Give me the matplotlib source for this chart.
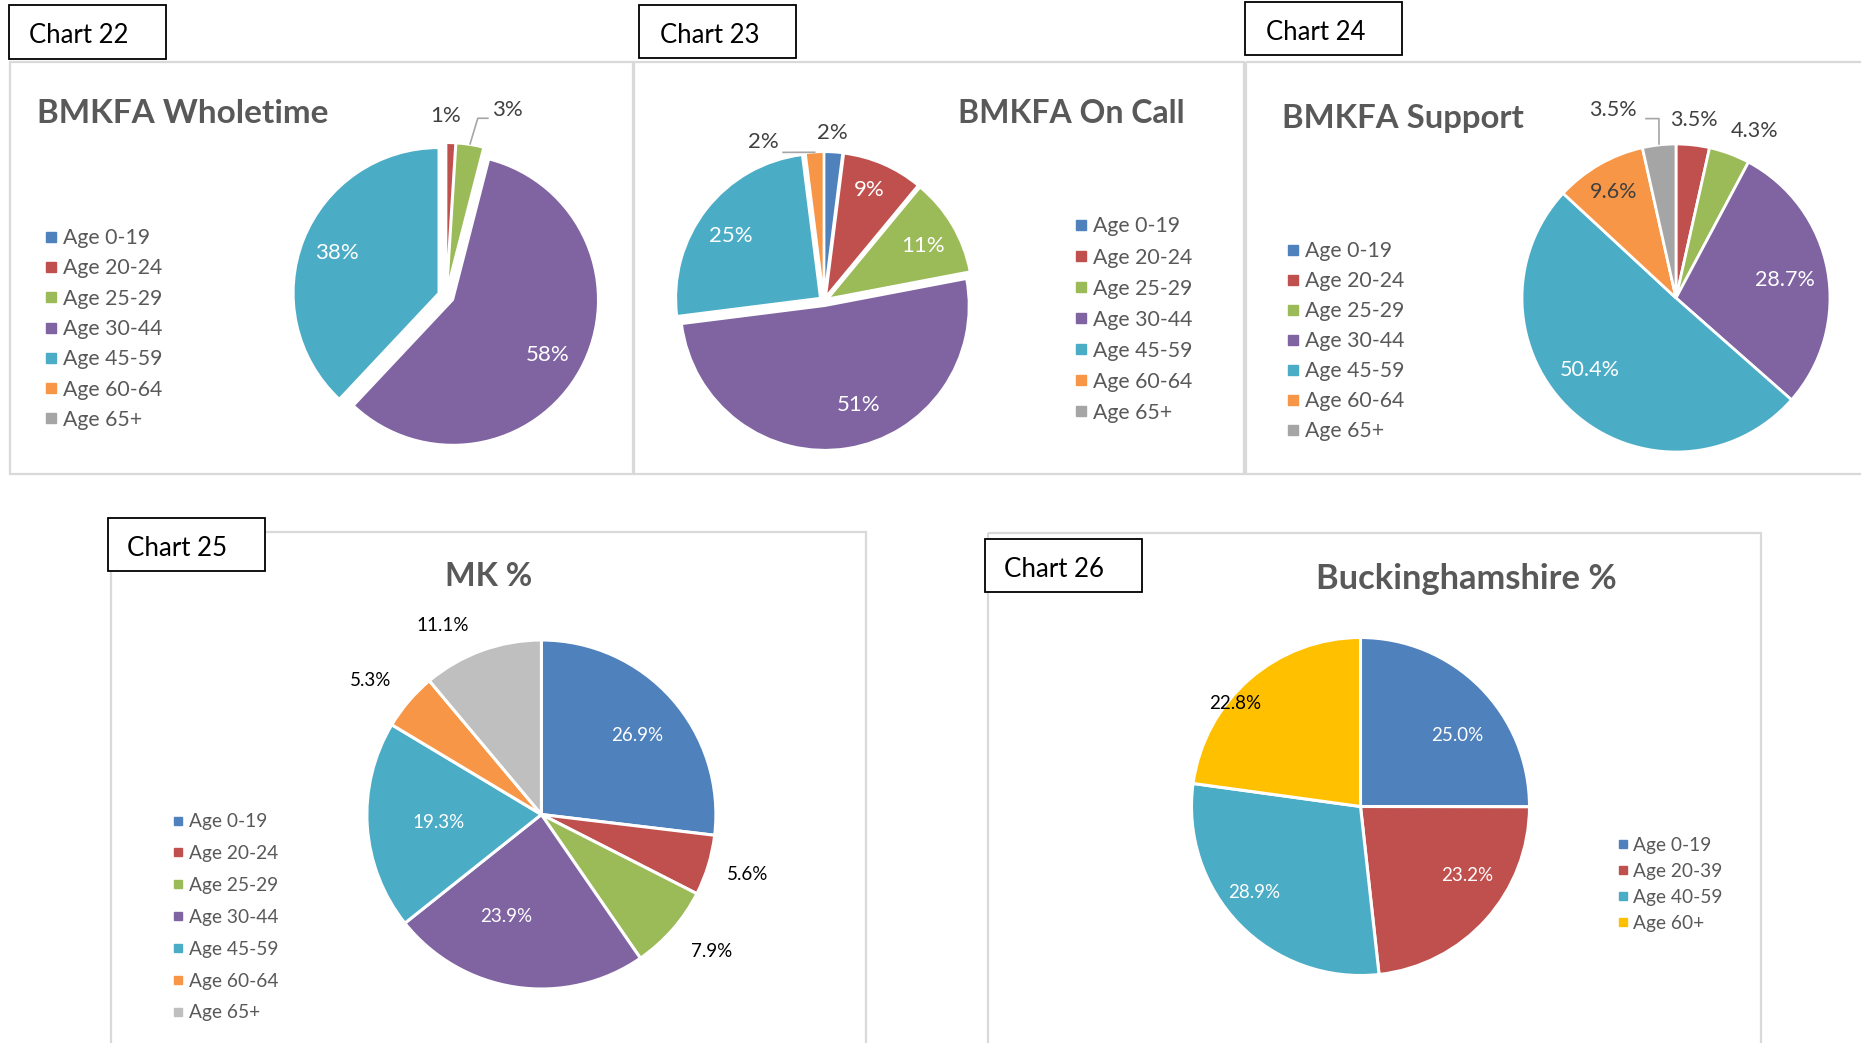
import matplotlib
matplotlib.use("Agg")
import matplotlib.pyplot as plt
from matplotlib.lines import Line2D
from matplotlib.patches import Rectangle
import numpy as np

plt.rcParams['font.family'] = ['Lato', 'DejaVu Sans']

W, H = 1861, 1043

# ---------------- data ----------------
ages7 = ["Age 0-19", "Age 20-24", "Age 25-29", "Age 30-44", "Age 45-59", "Age 60-64", "Age 65+"]
ages4 = ["Age 0-19", "Age 20-39", "Age 40-59", "Age 60+"]

wholetime = [0, 1, 3, 58, 38, 0, 0]
on_call = [2, 9, 11, 51, 25, 2, 0]
support = [0, 3.5, 4.3, 28.7, 50.4, 9.6, 3.5]
mk = [26.9, 5.6, 7.9, 23.9, 19.3, 5.3, 11.1]
bucks = [25.0, 23.2, 28.9, 22.8]

titles = ["BMKFA Wholetime", "BMKFA On Call", "BMKFA Support", "MK %", "Buckinghamshire %"]
chart_nums = ["Chart 22", "Chart 23", "Chart 24", "Chart 25", "Chart 26"]

# ---------------- styles ----------------
c7 = ['#4F81BD', '#C0504D', '#9BBB59', '#8064A2', '#4BACC6', '#F79646', '#A5A5A5']
c7_mk = ['#4F81BD', '#C0504D', '#9BBB59', '#8064A2', '#4BACC6', '#F79646', '#BFBFBF']
c4 = ['#4F81BD', '#C0504D', '#4BACC6', '#FFC000']
GREY_TXT = '#595959'
DARK = '#404040'

fig = plt.figure(figsize=(W / 100, H / 100), dpi=100)
bg = fig.add_axes([0, 0, 1, 1])
bg.set_xlim(0, W)
bg.set_ylim(H, 0)
bg.axis('off')

fit_list = []


def frame(x0, y0, x1, y1):
    bg.add_patch(Rectangle((x0, y0), x1 - x0, y1 - y0, fill=False, ec='#D9D9D9', lw=1.6, zorder=1))


def chart_box(x0, y0, x1, y1, text, tx, ty):
    bg.add_patch(Rectangle((x0, y0), x1 - x0, y1 - y0, fc='white', ec='black', lw=1.3, zorder=3))
    t = bg.text(tx, ty, text, fontsize=19, color='black', va='baseline', ha='left', zorder=4)
    fit_list.append((t, 100))


def title(x, y, text, width, ha='left'):
    t = bg.text(x, y, text, fontsize=24, fontweight='bold', color=GREY_TXT, va='baseline', ha=ha, zorder=4)
    fit_list.append((t, width))


def draw_pie(cx, cy, R, values, colors, expl, lw):
    S = R * 1.6
    ax = fig.add_axes([(cx - S) / W, 1 - (cy + S) / H, 2 * S / W, 2 * S / H])
    wedges, _ = ax.pie(values, colors=colors, startangle=90, counterclock=False, radius=R,
                       explode=[expl] * len(values),
                       wedgeprops=dict(edgecolor='white', linewidth=lw))
    ax.set_xlim(-S, S)
    ax.set_ylim(-S, S)
    ax.set_aspect('equal')
    ax.axis('off')
    return ax, wedges


def pie_labels(ax, wedges, R, texts, dists, shifts, colors, fs):
    pos = {}
    for i, w in enumerate(wedges):
        if not texts[i]:
            continue
        a = np.deg2rad((w.theta1 + w.theta2) / 2 + shifts[i])
        x, y = dists[i] * R * np.cos(a), dists[i] * R * np.sin(a)
        ax.text(x, y, texts[i], ha='center', va='center', fontsize=fs, color=colors[i])
        pos[i] = (x, y)
    return pos


def leader(ax, wedge, r_edge, lab, off1, off2):
    a = np.deg2rad((wedge.theta1 + wedge.theta2) / 2)
    sx, sy = r_edge * np.cos(a), r_edge * np.sin(a)
    xs = [sx, lab[0] + off1[0], lab[0] + off2[0]]
    ys = [sy, lab[1] + off1[1], lab[1] + off2[1]]
    ax.plot(xs, ys, color='#A6A6A6', lw=1.2)


def legend(ax, labels, colors, mcx, text_left, cy, step, fs, msize):
    fs_px = fs * 100 / 72
    hl = 0.6
    x0 = mcx - hl * fs_px / 2
    pad = (text_left - x0 - hl * fs_px) / fs_px
    text_h = 0.91 * fs_px
    top = cy - 0.4 * fs_px
    handles = [Line2D([], [], ls='', marker='s', markersize=msize, color=c) for c in colors]
    ax.legend(handles, labels, loc='upper left', bbox_to_anchor=(x0 / W, 1 - top / H),
              bbox_transform=fig.transFigure, frameon=False, fontsize=fs, handlelength=hl,
              handletextpad=pad, labelspacing=(step - text_h) / fs_px, borderpad=0,
              borderaxespad=0, labelcolor=GREY_TXT)


# ---------------- Chart 22 ----------------
frame(9.5, 62, 633, 474)
chart_box(9, 5, 166, 58.5, chart_nums[0], 29, 43)
title(37, 123, titles[0], 291)
R = 145
ax, wd = draw_pie(446, 296, R, wholetime, c7, 8, 1.5)
txt = [f"{v:.0f}%" if v else "" for v in wholetime]
col = [DARK, DARK, DARK, 'white', 'white', DARK, DARK]
pos = pie_labels(ax, wd, R, txt, [1, 1.24, 1.35, 0.81, 0.81, 1, 1], [0, 2, -9.4, -1.5, 0, 0, 0], col, 16)
leader(ax, wd[2], R + 9, pos[2], (-30, -8), (-20, -8))
legend(ax, ages7, c7, 50.5, 63, 236.7, 29.6, 15.3, 7)

# ---------------- Chart 23 ----------------
frame(634, 62, 1244, 474)
chart_box(638.7, 5, 796, 58, chart_nums[1], 659.6, 43)
title(958, 122.7, titles[1], 227)
R = 144
ax, wd = draw_pie(824, 301, R, on_call, c7, 5, 1.5)
txt = [f"{v:.0f}%" if v else "" for v in on_call]
col = [DARK, 'white', 'white', 'white', 'white', DARK, DARK]
pos = pie_labels(ax, wd, R, txt, [1.17, 0.83, 0.79, 0.76, 0.79, 1.18, 1], [0.6, 1.3, -1.6, 9.6, 3, 17.4, 0], col, 16)
leader(ax, wd[5], R + 5, pos[5], (20, -10), (20, -10))
legend(ax, ages7, c7, 1080.6, 1093, 225, 30.4, 15.3, 7)

# ---------------- Chart 24 ----------------
frame(1245.5, 62, 1870, 474)
chart_box(1244.8, 2, 1402.4, 55, chart_nums[2], 1265.7, 40)
title(1281.6, 128, titles[2], 241.6)
R = 154
ax, wd = draw_pie(1676, 298, R, support, c7, 0, 2)
txt = [f"{v:.1f}%" if v else "" for v in support]
col = [DARK, DARK, DARK, 'white', 'white', DARK, DARK]
pos = pie_labels(ax, wd, R, txt, [1, 1.16, 1.2, 0.72, 0.73, 0.8, 1.29], [0, 0.5, -4.7, -0.9, -8, 0.4, 12.2], col, 15.5)
leader(ax, wd[6], R + 1, pos[6], (46, -9), (33, -9))
legend(ax, ages7, c7, 1292.5, 1304.6, 250, 29.3, 15.3, 7)

# ---------------- Chart 25 ----------------
frame(111, 532, 866, H + 20)
chart_box(107.5, 517.5, 265, 571, chart_nums[3], 127.4, 556)
title(489, 586.5, titles[3], 87, ha='center')
R = 174.5
ax, wd = draw_pie(541.4, 814.5, R, mk, c7_mk, 0, 2.2)
txt = [f"{v:.1f}%" for v in mk]
col = ['white', 'black', 'black', 'white', 'white', 'black', 'black']
pie_labels(ax, wd, R, txt, [0.71, 1.23, 1.25, 0.62, 0.59, 1.245, 1.22], [-1.9, 0.7, 2.4, -10.6, 0.6, 2.5, 7.6], col, 13.5)
legend(ax, ages7, c7_mk, 178.3, 188.6, 821, 32.3, 13.8, 5.5)

# ---------------- Chart 26 ----------------
frame(988, 533, 1761, H + 20)
chart_box(984.5, 539, 1141.8, 592, chart_nums[4], 1003.6, 576.7)
title(1466, 589, titles[4], 300.5, ha='center')
R = 169
ax, wd = draw_pie(1360.5, 806.5, R, bucks, c4, 0, 2.2)
txt = [f"{v:.1f}%" for v in bucks]
col = ['white', 'white', 'white', 'black']
pie_labels(ax, wd, R, txt, [0.71, 0.75, 0.81, 0.96], [-8.4, 8.8, -5.5, 9.6], col, 13.5)
legend(ax, ages4, c4, 1623, 1632.8, 844.3, 26.4, 13.8, 5.5)

# scale box labels / titles to the measured widths
fig.canvas.draw()
r = fig.canvas.get_renderer()
for t, wpx in fit_list:
    bb = t.get_window_extent(r)
    t.set_fontsize(t.get_fontsize() * wpx / bb.width)

fig.savefig("out.png", dpi=100, facecolor='white')
